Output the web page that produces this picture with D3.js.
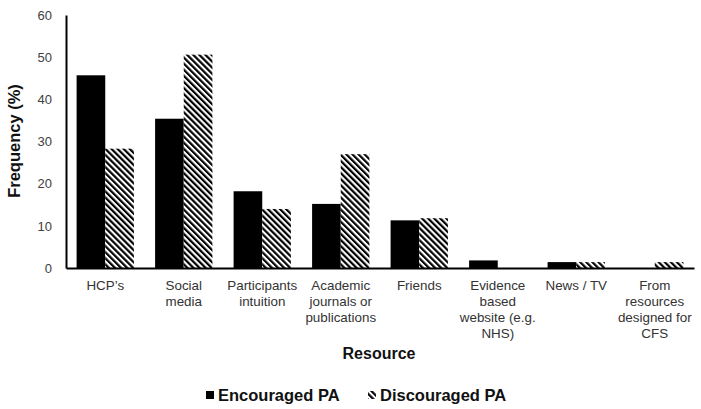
<!DOCTYPE html>
<html>
<head>
<meta charset="utf-8">
<script src="https://cdn.jsdelivr.net/npm/d3@7"></script>
<style>
  html, body { margin: 0; padding: 0; background: #fff; }
  svg { display: block; font-family: "Liberation Sans", Arial, sans-serif; }
</style>
</head>
<body>
<svg id="chart" width="701" height="409"></svg>
<script>
// ---- Data ----
const categories = ["HCP's", "Social media", "Participants intuition", "Academic journals or publications",
  "Friends", "Evidence based website (e.g. NHS)", "News / TV", "From resources designed for CFS"];
const categoryLines = [
  ["HCP\u2019s"],
  ["Social", "media"],
  ["Participants", "intuition"],
  ["Academic", "journals or", "publications"],
  ["Friends"],
  ["Evidence", "based", "website (e.g.", "NHS)"],
  ["News / TV"],
  ["From", "resources", "designed for", "CFS"]
];
const seriesNames = ["Encouraged PA", "Discouraged PA"];
const encouraged = [45.7, 35.4, 18.2, 15.2, 11.3, 1.8, 1.4, 0];
const discouraged = [28.3, 50.6, 14.0, 27.0, 11.8, 0, 1.4, 1.4];
const yTicks = [0, 10, 20, 30, 40, 50, 60];

// ---- Layout ----
const svg = d3.select("#chart");
const mLeft = 66, mRight = 694, mTop = 15, mBottom = 268;

const defs = svg.append("defs");
const pat = defs.append("pattern")
  .attr("id", "hatch")
  .attr("patternUnits", "userSpaceOnUse")
  .attr("width", 4.3).attr("height", 4.3)
  .attr("patternTransform", "rotate(-45)");
pat.append("rect").attr("width", 4.3).attr("height", 4.3).attr("fill", "#fff");
pat.append("rect").attr("x", 0).attr("y", 0).attr("width", 2.2).attr("height", 4.3).attr("fill", "#000");

const x0 = d3.scaleBand().domain(categories).range([mLeft, mRight]).paddingInner(0.27).paddingOuter(0.135);
const x1 = d3.scaleBand().domain(seriesNames).range([0, x0.bandwidth()]);
const y = d3.scaleLinear().domain([0, 60]).range([mBottom, mTop]);

const rows = categories.map((c, i) => ({ cat: c, vals: [encouraged[i], discouraged[i]] }));

const g = svg.append("g").selectAll("g").data(rows).join("g")
  .attr("transform", d => `translate(${x0(d.cat)},0)`);
g.selectAll("rect").data(d => d.vals.map((v, j) => ({ v, s: seriesNames[j], j })))
  .join("rect")
  .attr("x", d => x1(d.s))
  .attr("y", d => y(d.v))
  .attr("width", x1.bandwidth())
  .attr("height", d => mBottom - y(d.v))
  .attr("fill", d => d.j === 0 ? "#000" : "url(#hatch)");

// Y axis
const yAxis = svg.append("g").attr("transform", `translate(${mLeft},0)`)
  .call(d3.axisLeft(y).tickValues(yTicks).tickSize(0).tickPadding(14));
yAxis.select(".domain").attr("stroke", "#000").attr("stroke-width", 2);
yAxis.selectAll("text").attr("font-size", 13).attr("fill", "#404040")
  .attr("font-family", "'Liberation Sans', Arial, sans-serif");

// X axis
const xAxis = svg.append("g").attr("transform", `translate(0,${mBottom})`)
  .call(d3.axisBottom(x0).tickSize(0).tickFormat(""));
xAxis.select(".domain").attr("stroke", "#000").attr("stroke-width", 2);

// Category labels (multi-line)
const lbl = svg.append("g").selectAll("text").data(categories).join("text")
  .attr("x", d => x0(d) + x0.bandwidth() / 2)
  .attr("y", 290)
  .attr("text-anchor", "middle")
  .attr("font-size", 13.4)
  .attr("fill", "#333");
lbl.each(function(d, i) {
  d3.select(this).selectAll("tspan").data(categoryLines[i]).join("tspan")
    .attr("x", x0(d) + x0.bandwidth() / 2)
    .attr("dy", (t, k) => k === 0 ? 0 : 16)
    .text(t => t);
});

// Axis titles
svg.append("text").attr("x", 379).attr("y", 359).attr("text-anchor", "middle")
  .attr("font-size", 16).attr("font-weight", "bold").attr("fill", "#111").text("Resource");
svg.append("text").attr("transform", "translate(20,141) rotate(-90)").attr("text-anchor", "middle")
  .attr("font-size", 16.5).attr("font-weight", "bold").attr("fill", "#111").text("Frequency (%)");

// Legend
const legendX = [206, 368];
const leg = svg.append("g").selectAll("g").data(seriesNames).join("g")
  .attr("transform", (d, i) => `translate(${legendX[i]},0)`);
leg.append("rect").attr("x", 0).attr("y", 391).attr("width", 8).attr("height", 8)
  .attr("fill", (d, i) => i === 0 ? "#000" : "url(#hatch)");
leg.append("text").attr("x", 12).attr("y", 401)
  .attr("font-size", 16.5).attr("font-weight", "bold").attr("fill", "#111").text(d => d);
</script>
</body>
</html>
